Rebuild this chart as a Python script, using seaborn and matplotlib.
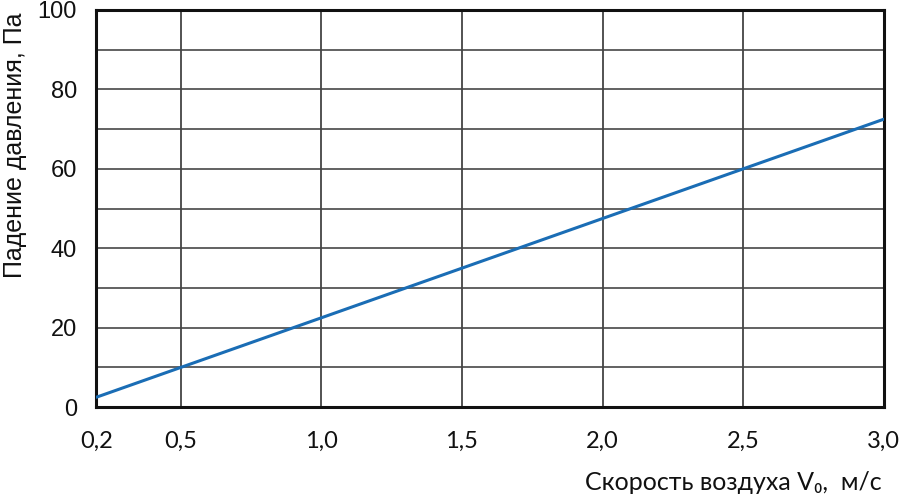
import numpy as np
import pandas as pd
import matplotlib
matplotlib.use("Agg")
import matplotlib.pyplot as plt
import seaborn as sns

# values
air_speed = [0.2, 0.5, 1.0, 1.5, 2.0, 2.5, 3.0]
pressure_drop = [2.5, 10.0, 22.5, 35.0, 47.5, 60.0, 72.5]
x_ticks = [0.2, 0.5, 1.0, 1.5, 2.0, 2.5, 3.0]
x_tick_labels = ["0,2", "0,5", "1,0", "1,5", "2,0", "2,5", "3,0"]
y_ticks = [0, 20, 40, 60, 80, 100]

df = pd.DataFrame({"v": air_speed, "dp": pressure_drop})

sns.set_style("white")
plt.rcParams["font.family"] = ["Liberation Sans", "DejaVu Sans"]

fig, ax = plt.subplots(figsize=(9, 4.99), dpi=100)
fig.subplots_adjust(left=0.107, right=0.982, top=0.98, bottom=0.184)

# grid: every 10 Pa, every 0.5 m/s
for yv in range(10, 100, 10):
    ax.axhline(yv, color="#555555", linewidth=1.3, zorder=1)
for xv in [0.5, 1.0, 1.5, 2.0, 2.5]:
    ax.axvline(xv, color="#444444", linewidth=1.3, zorder=1)

sns.lineplot(data=df, x="v", y="dp", color="#1a6db5", linewidth=2.2, ax=ax, zorder=3)

ax.set_xlim(0.2, 3.0)
ax.set_ylim(0, 100)
ax.set_xticks(x_ticks)
ax.set_xticklabels(x_tick_labels, fontfamily=["Lato", "DejaVu Sans"])
ax.set_yticks(y_ticks)

for side in ax.spines.values():
    side.set_color("#111111")
    side.set_linewidth(2.2)

ax.tick_params(axis="both", direction="out", length=8, width=1.3, color="#333333",
               labelsize=17, labelcolor="#111111", pad=6)
ax.tick_params(axis="x", pad=9)

ax.set_ylabel("Падение давления, Па", fontsize=18, color="#111111")
ax.yaxis.label.set_va("center")
ax.yaxis.set_label_coords(-0.103, 0.66)

ax.set_xlabel("Скорость воздуха V₀,  м/с", fontsize=18, color="#111111",
              fontfamily=["Lato", "DejaVu Sans"])
ax.xaxis.label.set_va("center")
ax.xaxis.set_label_coords(0.809, -0.19)

fig.savefig("out.png", dpi=100)
